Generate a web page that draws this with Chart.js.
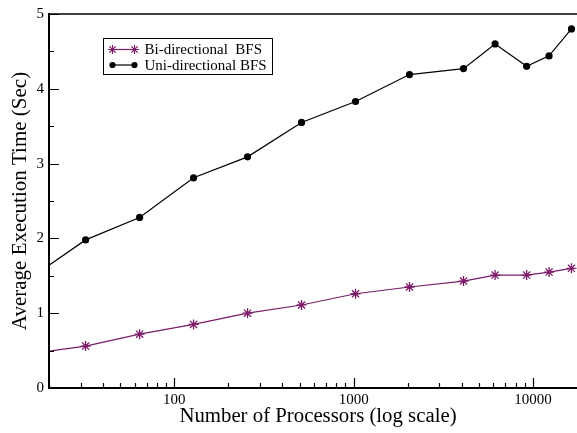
<!DOCTYPE html>
<html>
<head>
<meta charset="utf-8">
<script src="https://cdn.jsdelivr.net/npm/chart.js@4"></script>
<style>
  html, body { margin: 0; padding: 0; background: #fff; overflow: hidden; }
  #wrap { width: 577px; height: 433px; overflow: hidden; }
</style>
</head>
<body>
<div id="wrap"><canvas id="c" width="587" height="433"></canvas></div>
<script>
// processors (first point lies left of the visible range, line is clipped)
const procs = [16, 32, 64, 128, 256, 512, 1024, 2048, 4096, 6144, 9216, 12288, 16384];
const biBFS = [0.46, 0.56, 0.72, 0.85, 1.0, 1.11, 1.26, 1.35, 1.43, 1.51, 1.51, 1.55, 1.60];
const uniBFS = [1.48, 1.98, 2.28, 2.81, 3.09, 3.55, 3.83, 4.19, 4.27, 4.60, 4.30, 4.44, 4.80];
const xLabels = [100, 1000, 10000];
const yLabels = [0, 1, 2, 3, 4, 5];

const seriesNames = ["Bi-directional  BFS", "Uni-directional BFS"];
const PURPLE = "#7c1c68";
const SERIF = "'Liberation Serif', 'DejaVu Serif', serif";

const toPts = ys => procs.map((p, i) => ({ x: p, y: ys[i] }));

// tick marks drawn inside the frame, plus top border and boxed legend
const frame = {
  id: "frame",
  afterDraw(chart) {
    const { ctx, chartArea: a, scales: { x, y } } = chart;
    ctx.save();
    ctx.strokeStyle = "#000";
    ctx.lineWidth = 1.2;
    ctx.beginPath();
    for (let d = 10; d <= 100000; d *= 10) {
      for (let k = 1; k < 10; k++) {
        const v = k * d;
        if (v < x.min || v > x.max) continue;
        const px = Math.round(x.getPixelForValue(v)) + 0.5;
        const len = k === 1 ? 10 : 5;
        ctx.moveTo(px, a.bottom);
        ctx.lineTo(px, a.bottom - len);
      }
    }
    for (let v = 0; v <= 5; v += 0.5) {
      const py = Math.round(y.getPixelForValue(v)) + 0.5;
      const len = Number.isInteger(v) ? 10 : 5;
      ctx.moveTo(a.left, py);
      ctx.lineTo(a.left + len, py);
    }
    ctx.stroke();
    // top border
    ctx.lineWidth = 1.5;
    ctx.beginPath();
    ctx.moveTo(a.left, a.top);
    ctx.lineTo(a.right, a.top);
    ctx.stroke();

    // legend
    const lx = 103.5, ly = 38.5, lw = 169, lh = 36;
    ctx.fillStyle = "#fff";
    ctx.fillRect(lx, ly, lw, lh);
    ctx.lineWidth = 1;
    ctx.strokeRect(lx, ly, lw, lh);
    ctx.font = "15px " + SERIF;
    ctx.textBaseline = "middle";
    chart.data.datasets.forEach((ds, i) => {
      const cy = ly + 11 + i * 15.5;
      const x1 = lx + 9, x2 = lx + 31;
      ctx.strokeStyle = ds.borderColor;
      ctx.lineWidth = 1.2;
      ctx.beginPath();
      ctx.moveTo(x1, cy);
      ctx.lineTo(x2, cy);
      ctx.stroke();
      ctx.fillStyle = ds.backgroundColor;
      [x1, x2].forEach(px => {
        Chart.helpers.drawPoint(ctx, {
          pointStyle: ds.pointStyle, radius: ds.pointRadius - 0.5, borderWidth: ds.pointBorderWidth
        }, px, cy);
      });
      ctx.fillStyle = "#000";
      ctx.fillText(seriesNames[i], lx + 41, cy + 1);
    });
    ctx.restore();
  }
};

new Chart(document.getElementById("c"), {
  type: "line",
  data: {
    datasets: [
      {
        label: seriesNames[0],
        data: toPts(biBFS),
        borderColor: PURPLE,
        backgroundColor: PURPLE,
        borderWidth: 1.2,
        pointStyle: "star",
        pointRadius: 5,
        pointBorderWidth: 1.3,
        pointBorderColor: PURPLE,
        tension: 0
      },
      {
        label: seriesNames[1],
        data: toPts(uniBFS),
        borderColor: "#000",
        backgroundColor: "#000",
        borderWidth: 1.2,
        pointStyle: "circle",
        pointRadius: 3.6,
        pointBorderWidth: 0,
        pointBackgroundColor: "#000",
        tension: 0
      }
    ]
  },
  options: {
    responsive: false,
    animation: false,
    events: [],
    layout: { autoPadding: false, padding: { top: 12.5, right: 0, left: 0, bottom: 0 } },
    plugins: { legend: { display: false }, tooltip: { enabled: false } },
    scales: {
      x: {
        type: "logarithmic",
        min: 20,
        max: 20000,
        afterBuildTicks: s => { s.ticks = xLabels.map(v => ({ value: v })); },
        afterFit: s => { s.height = 45; },
        ticks: {
          color: "#000",
          font: { family: SERIF, size: 15 },
          padding: 3,
          maxRotation: 0,
          autoSkip: false,
          callback: v => String(v)
        },
        grid: { display: false, drawTicks: false },
        border: { display: true, color: "#000", width: 2 },
        title: {
          display: true,
          text: "Number of Processors (log scale)",
          color: "#000",
          font: { family: SERIF, size: 20.8 },
          padding: { top: 0, bottom: 4 }
        }
      },
      y: {
        min: 0,
        max: 5,
        afterBuildTicks: s => { s.ticks = yLabels.map(v => ({ value: v })); },
        afterFit: s => { s.width = 49; },
        ticks: {
          color: "#000",
          font: { family: SERIF, size: 15 },
          padding: 5
        },
        grid: { display: false, drawTicks: false },
        border: { display: true, color: "#000", width: 2 },
        title: {
          display: true,
          text: "Average Execution Time (Sec)",
          color: "#000",
          font: { family: SERIF, size: 21 },
          padding: { top: 8, bottom: 0 }
        }
      }
    }
  },
  plugins: [frame]
});
</script>
</body>
</html>
